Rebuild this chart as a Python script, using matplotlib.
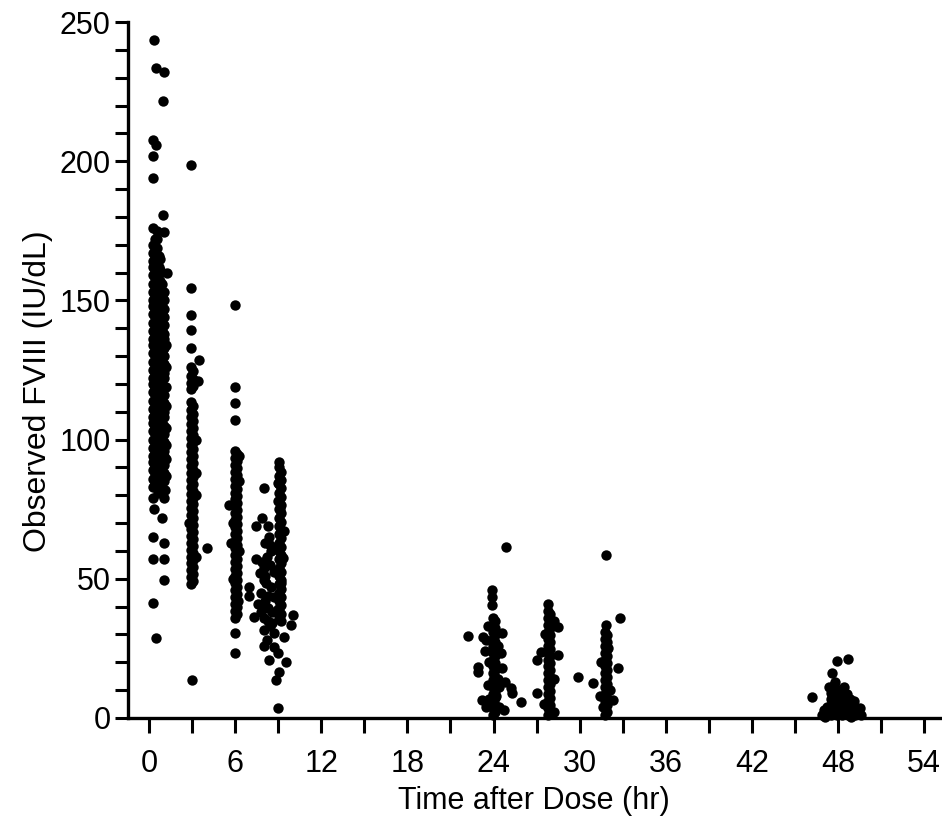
import matplotlib
matplotlib.use("Agg")
import matplotlib.pyplot as plt
from matplotlib.ticker import MultipleLocator

# Observed FVIII (IU/dL), grouped by nominal sampling time.
# Dense vertical bands are given as {time: [values]} columns.

band_0h = {
    0.3: [83, 86, 89, 92, 94, 97, 100, 103, 106, 108, 111, 114, 117, 120, 122, 125,
          128, 131, 134, 136, 139, 142, 145, 148, 150, 153, 156, 159, 162, 164, 167, 170],
    0.42: [84.5, 87.5, 90.5, 93.5, 96, 99, 102, 104.5, 107.5, 110, 113, 116, 118.5, 121.5,
           124, 127, 130, 133, 135.5, 138, 141, 144, 147, 149.5, 152, 155, 158, 161, 163.5,
           166, 169, 172],
    0.55: [85, 88, 90, 93, 96, 99, 102, 104, 107, 110, 113, 116, 118, 121, 124, 127,
           130, 132, 135, 138, 141, 144, 146, 149, 152, 155, 158, 160, 163, 166, 169, 172, 175],
    0.68: [86.5, 89.5, 92, 95, 98, 100.5, 103.5, 106, 109, 112, 114.5, 117.5, 120, 123,
           126, 128.5, 131.5, 134, 137, 140, 142.5, 145.5, 148, 151, 154, 156.5, 159.5,
           162, 166],
    0.8: [84, 87, 90, 93, 95, 98, 101, 104, 107, 109, 112, 115, 118, 121, 123, 126,
          129, 132, 135, 137, 140, 143, 146, 149, 151, 154, 157, 161, 165],
    0.93: [85.5, 88.5, 91.5, 94.5, 97.5, 100, 103, 106, 108.5, 111.5, 114, 117, 120,
           122.5, 125.5, 128, 131, 134, 136.5, 139.5, 142, 145, 148, 152, 156],
    1.05: [85, 88, 91, 94, 96, 99, 102, 105, 108, 110, 113, 116, 119, 122, 124, 127,
           130, 133, 136, 138, 141, 144, 147, 150, 153],
    1.2: [87, 93, 98, 104, 112, 119, 126, 134],
}
t_0h = [0.35, 0.5, 1.05, 1.0, 0.3, 0.5, 0.25, 0.3, 1.0, 0.3, 1.05, 0.3, 1.05, 0.35,
        0.9, 0.3, 1.05, 0.3, 1.05, 1.05, 0.3, 0.5, 0.6, 1.1, 1.25]
y_0h = [243.5, 233.5, 232, 221.6, 207.6, 206, 202, 194, 180.7, 176, 174.6, 79, 79, 75,
        72, 65, 63, 57, 57, 49.6, 41.3, 28.7, 81, 82, 160]

band_3h = {
    2.95: [48, 50.5, 53, 55.5, 58, 60.5, 63, 65.5, 68, 70.5, 73, 75.5, 78, 80.5, 83,
           85.5, 88, 90.5, 93, 95.5, 98, 100.5, 103, 105.5, 108, 110.5, 113.5, 118,
           120.5, 123, 126],
    3.08: [49.2, 51.7, 54.2, 56.7, 59.2, 61.7, 64.2, 66.7, 69.2, 71.7, 74.2, 76.7, 79.2,
           81.7, 84.2, 86.7, 89.2, 91.7, 94.2, 96.7, 99.2, 101.7, 104.2, 106.7, 109.2,
           112, 119.2, 121.7, 124.5],
}
t_3h = [3.3, 3.3, 3.25, 3.4, 3.3, 2.8, 2.92, 2.95, 2.95, 2.95, 2.95, 3.5, 4.05, 3.0]
y_3h = [58, 80, 100, 121, 88, 70, 198.6, 154.5, 144.7, 139.5, 133, 128.6, 61, 13.6]

band_6h = {
    6.0: [36, 38.5, 41, 43.5, 46, 48.5, 51, 53.5, 56, 58.5, 61, 63.5, 66, 68.5, 71,
          73.5, 76, 78.5, 81, 83.5, 86, 88.5, 91, 93.5, 96],
    6.13: [37.2, 39.7, 42.2, 44.7, 47.2, 49.7, 52.2, 54.7, 57.2, 59.7, 62.2, 64.7, 67.2,
           69.7, 72.2, 74.7, 77.2, 79.7, 82.2, 84.7, 87.2, 89.7, 92.2, 95],
}
t_6h = [6.3, 6.3, 5.85, 6.25, 5.85, 6.2, 6.0, 6.0, 6.0, 6.0, 6.0, 6.0, 5.55, 5.7]
y_6h = [94, 85, 70, 60, 50, 42, 148.3, 119, 113, 107, 30.5, 23.3, 76.5, 63]

band_9h = {
    9.05: [36, 39, 42, 45, 48, 51, 54, 57, 60, 63, 66, 69, 72, 75, 78, 81, 84, 87, 90, 92],
    9.18: [37.5, 40.5, 43.5, 46.5, 49.5, 52.5, 55.5, 58.5, 61.5, 64.5, 67.5, 70.5, 73.5,
           76.5, 79.5, 82.5, 85.5, 88.5],
}
t_9h = [8.0, 8.97, 8.97, 9.1, 7.44, 8.28, 9.39, 8.34, 8.97, 9.32, 7.44, 8.0, 8.69, 8.0,
        9.18, 6.95, 6.95, 7.79, 8.69, 8.0, 8.97, 7.3, 8.28, 9.18, 10.0, 9.87, 8.0, 8.69,
        9.39, 8.0, 8.69, 8.97, 8.34, 9.53, 9.04, 8.83, 8.97,
        8.2, 8.4, 8.1, 8.5, 8.3, 8.1, 8.6, 8.4, 8.2, 7.8, 7.6, 8.5, 7.9, 8.1,
        8.0, 8.3, 7.7, 8.45, 8.15, 7.9, 8.6]
y_9h = [82.6, 84.4, 78, 75, 69, 69, 67, 65, 61.5, 57.5, 57, 54, 52.5, 49.6,
        48.5, 47, 44, 45, 43.5, 40, 39, 36.3, 35, 35, 37, 33.4, 31.6, 30.5,
        29, 26, 25.5, 23.3, 21, 20, 16.5, 13.6, 3.6,
        58, 55, 51, 47, 44, 42, 38, 33, 28, 38, 41, 60, 72, 63,
        36, 39.5, 52, 62, 48.5, 56, 34]

band_24h = {
    23.95: [1, 3.5, 6, 8.5, 11, 13.5, 16, 18.5, 21, 23.5, 26, 28.5, 31, 33.5, 36],
    24.1: [2.2, 4.7, 7.2, 9.7, 12.2, 14.7, 17.2, 19.7, 22.2, 24.7, 27.2, 29.7, 32.2, 34.7],
}
t_24h = [24.9, 22.2, 23.9, 23.9, 23.9, 22.95, 22.9, 25.9, 25.2, 24.5, 23.3, 24.6,
         23.2, 25.3, 23.5, 24.4, 23.6, 24.3, 23.7, 24.3, 23.6, 24.2, 24.6, 23.4,
         23.7, 24.4, 24.8, 23.5, 24.7]
y_24h = [61.4, 29.5, 46, 43.5, 40.6, 16.5, 18.3, 5.7, 10.8, 23.3, 29, 30.5,
         6.5, 9, 4, 4, 12, 14, 20, 26, 33, 8, 18, 24,
         7, 11, 13, 28, 3]

band_28h = {
    27.8: [1, 3.5, 6, 8.5, 11, 13.5, 16, 18.5, 21, 23.5, 26, 28.5, 31, 33.5, 36, 38.5, 41],
    27.95: [2.2, 4.7, 7.2, 9.7, 12.2, 14.7, 17.2, 19.7, 22.2, 24.7, 27.2, 29.7, 32.2,
            34.7, 37.2],
}
t_28h = [27.0, 27.0, 28.5, 28.5, 27.3, 28.2, 27.6, 28.2, 27.5, 28.2]
y_28h = [21, 9, 32.7, 22.6, 23.7, 35, 30, 14, 5, 2]

band_32h = {
    31.75: [1, 3.5, 6, 8.5, 11, 13.5, 16, 18.5, 21, 23.5, 26, 28.5, 31],
    31.9: [2.2, 4.7, 7.2, 9.7, 12.2, 14.7, 17.2, 19.7, 22.2, 24.7, 27.2, 29.7],
}
t_32h = [31.8, 32.8, 31.8, 29.9, 30.9, 32.7, 32.3, 31.5, 31.4, 32.1, 32.0, 31.6]
y_32h = [58.5, 36, 33.4, 14.7, 12.6, 18, 6.5, 20, 8, 10, 25, 4]

t_48h = [46.9, 47.2, 47.2, 47.5, 47.5, 47.5, 47.7, 47.7, 47.9, 47.9, 47.9, 48.1, 48.1,
         48.3, 48.3, 48.5, 48.5, 48.7, 48.8, 48.8, 49.0, 49.2, 49.2, 49.4, 49.6, 47.4,
         47.8, 48.0, 48.2, 47.6, 47.9, 48.7, 46.2, 48.4, 49.1,
         47.3, 47.6, 47.8, 48.0, 48.2, 48.4, 48.6, 48.9, 49.3, 47.0, 47.6, 48.0, 48.3,
         48.6, 47.7, 47.5, 49.0, 49.5, 47.1, 48.9]
y_48h = [1, 1.5, 4, 1, 4, 7, 10, 3, 1, 5, 8, 2, 6,
         1, 4, 2, 6, 1, 4, 7, 2, 1, 4, 2, 1, 11,
         13, 10, 9, 16.2, 20.5, 21.2, 7.5, 11, 6,
         2.5, 2, 3.5, 4, 3, 2.5, 4, 3, 2.5, 3, 5.5, 7, 7.5,
         8.5, 12, 9, 5, 3.5, 0.5, 0.5]

x_ticks = [0, 6, 12, 18, 24, 30, 36, 42, 48, 54]
y_ticks = [0, 50, 100, 150, 200, 250]

times, values = [], []
for band in [band_0h, band_3h, band_6h, band_9h, band_24h, band_28h, band_32h]:
    for t, ys in band.items():
        times += [t] * len(ys)
        values += ys
for ts, ys in [(t_0h, y_0h), (t_3h, y_3h), (t_6h, y_6h), (t_9h, y_9h),
               (t_24h, y_24h), (t_28h, y_28h), (t_32h, y_32h), (t_48h, y_48h)]:
    times += ts
    values += ys

plt.rcParams['font.family'] = ['Liberation Sans', 'DejaVu Sans']

fig = plt.figure(figsize=(9.42, 8.25), dpi=100)
ax = fig.add_axes([0.1359, 0.1297, 0.862, 0.8436])
ax.scatter(times, values, s=56, c='black', linewidths=0, clip_on=False)

ax.set_xlim(-1.46, 55.1)
ax.set_ylim(0, 250)
ax.set_xticks(x_ticks)
ax.set_yticks(y_ticks)
ax.xaxis.set_minor_locator(MultipleLocator(3))
ax.yaxis.set_minor_locator(MultipleLocator(10))

for side in ['top', 'right']:
    ax.spines[side].set_visible(False)
for side in ['left', 'bottom']:
    ax.spines[side].set_linewidth(2.4)

ax.tick_params(which='both', direction='out', width=2.2, colors='black')
ax.tick_params(axis='y', which='both', length=9.5)
ax.tick_params(axis='x', which='both', length=11)
ax.tick_params(axis='y', labelsize=22, pad=3)
ax.tick_params(axis='x', labelsize=22, pad=11)

ax.set_xlabel('Time after Dose (hr)', fontsize=22)
ax.set_ylabel('Observed FVIII (IU/dL)', fontsize=23)
ax.xaxis.set_label_coords(0.5, -0.098)
ax.yaxis.set_label_coords(-0.093, 0.47)

fig.savefig('out.png', dpi=100)
